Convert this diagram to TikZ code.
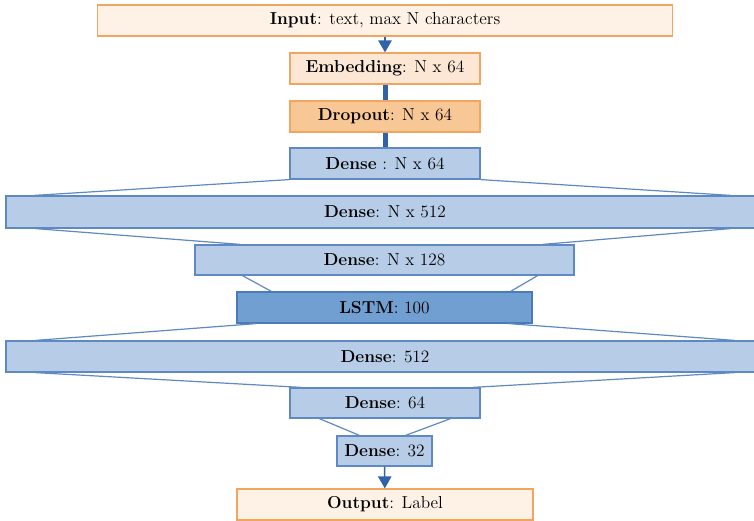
\documentclass[tikz,border=0pt]{standalone}
\usepackage{tikz}
\usetikzlibrary{calc,arrows.meta}

\definecolor{ioFill}{HTML}{FEF2E6}
\definecolor{embFill}{HTML}{FCE7D4}
\definecolor{dropFill}{HTML}{F8C796}
\definecolor{orangeLine}{HTML}{F2A55E}
\definecolor{denseFill}{HTML}{B6CCE7}
\definecolor{denseLine}{HTML}{5E89C2}
\definecolor{lstmFill}{HTML}{729FD1}
\definecolor{lstmLine}{HTML}{4B7BB6}
\definecolor{flow}{HTML}{2F62A8}

\begin{document}
\begin{tikzpicture}[x=0.75pt,y=-0.75pt,
  font=\fontsize{13}{15}\selectfont,
  layer/.style={draw,line width=0.9pt,inner sep=2pt,minimum height=23.25pt},
  io/.style={layer,draw=orangeLine,fill=ioFill},
  dense/.style={layer,draw=denseLine,fill=denseFill},
  fan/.style={denseLine,line width=0.9pt}]
\useasboundingbox (0,0) rectangle (754,521);
% layer stack, top to bottom
\node[io,minimum width=431.25pt] (inp) at (385,20.5) {\textbf{Input}: text, max N characters};
\node[io,fill=embFill,minimum width=142.5pt] (emb) at (385,68.5) {\textbf{Embedding}: N x 64};
\node[io,fill=dropFill,minimum width=142.5pt] (drop) at (385,116.5) {\textbf{Dropout}: N x 64};
\node[dense,minimum width=142.5pt] (d64) at (385,163.5) {\textbf{Dense} : N x 64};
\node[dense,minimum width=568.5pt,minimum height=24pt] (d512) at (385,212) {\textbf{Dense}: N x 512};
\node[dense,minimum width=284.25pt,minimum height=22.5pt] (d128) at (384.5,260) {\textbf{Dense}: N x 128};
\node[dense,fill=lstmFill,draw=lstmLine,minimum width=221.25pt] (lstm) at (384.5,307.5) {\textbf{LSTM}: 100};
\node[dense,minimum width=568.5pt] (d512b) at (385,356.5) {\textbf{Dense}: 512};
\node[dense,minimum width=142.5pt,minimum height=22.5pt] (d64b) at (385,403) {\textbf{Dense}: 64};
\node[dense,minimum width=71.25pt,minimum height=22.5pt] (d32) at (384.5,451) {\textbf{Dense}: 32};
\node[io,minimum width=222pt] (out) at (385,504.5) {\textbf{Output}: Label};

% straight flow
\draw[flow,line width=1.1pt,-{Triangle[width=10pt,length=9pt]}] (inp) -- (emb);
\draw[flow,line width=3.75pt] (emb) -- (drop);
\draw[flow,line width=3.75pt] (drop) -- (d64);
\draw[flow,line width=1.1pt,-{Triangle[width=10pt,length=9pt]}] (d32) -- (out);

% widening / narrowing between layers
\draw[fan] (d64.south west) -- ($(d512.north west)+(29,0)$);
\draw[fan] (d64.south east) -- ($(d512.north east)+(-34,0)$);
\draw[fan] ($(d512.south west)+(30,0)$) -- ($(d128.north west)+(46,0)$);
\draw[fan] ($(d512.south east)+(-34,0)$) -- ($(d128.north east)+(-32,0)$);
\draw[fan] ($(d128.south west)+(48,0)$) -- ($(lstm.north west)+(35,0)$);
\draw[fan] ($(d128.south east)+(-37,0)$) -- ($(lstm.north east)+(-22,0)$);
\draw[fan] ($(lstm.south west)+(20,0)$) -- ($(d512b.north west)+(30,0)$);
\draw[fan] ($(lstm.south east)+(-24,0)$) -- ($(d512b.north east)+(-30,0)$);
\draw[fan] ($(d512b.south west)+(30,0)$) -- ($(d64b.north west)+(12,0)$);
\draw[fan] ($(d512b.south east)+(-30,0)$) -- ($(d64b.north east)+(-8,0)$);
\draw[fan] ($(d64b.south west)+(30,0)$) -- ($(d32.north west)+(23,0)$);
\draw[fan] ($(d64b.south east)+(-30,0)$) -- ($(d32.north east)+(-27,0)$);
\end{tikzpicture}
\end{document}
